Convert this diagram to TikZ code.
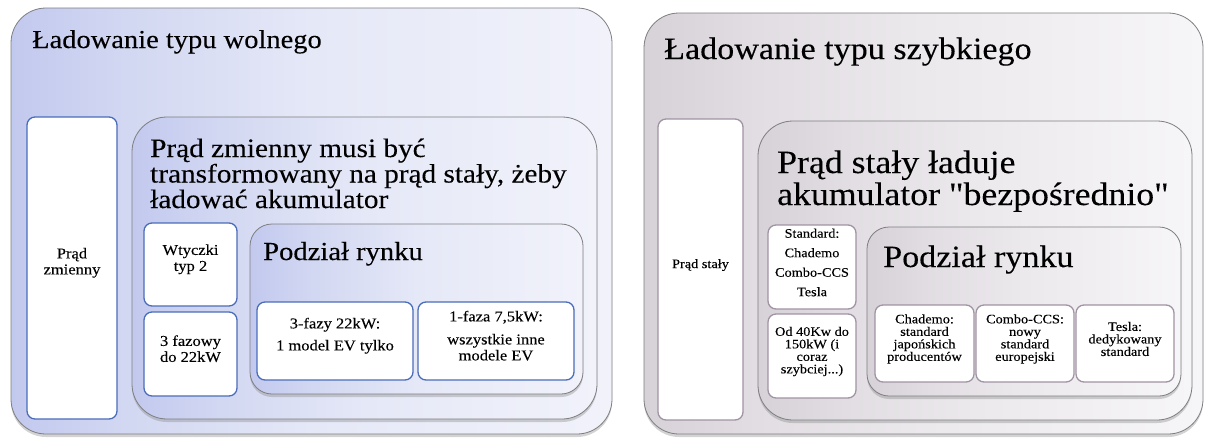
\documentclass[tikz,border=0pt]{standalone}
\usepackage{fontspec}
\setmainfont{Liberation Serif}[FakeStretch=1.1, FakeBold=0.15, Ligatures=TeXOff]
\usetikzlibrary{shadows,fit}
\definecolor{blA}{HTML}{C2C9EE}
\definecolor{blB}{HTML}{D3D8F2}
\definecolor{blC}{HTML}{E5E8F7}
\definecolor{blD}{HTML}{F1F2FA}
\definecolor{mvA}{HTML}{D7D1D8}
\definecolor{mvB}{HTML}{E1DDE2}
\definecolor{mvC}{HTML}{ECE9ED}
\definecolor{mvD}{HTML}{F6F5F7}
\definecolor{edgegray}{HTML}{7E7E80}
\definecolor{blueedge}{HTML}{4A6DBA}
\definecolor{mauveedge}{HTML}{A093A3}
\pgfdeclarehorizontalshading{shL}{100bp}{color(0bp)=(blA); color(25bp)=(blA); color(35bp)=(blB); color(50bp)=(blC); color(75bp)=(blD); color(100bp)=(blD)}
\pgfdeclarehorizontalshading{shR}{100bp}{color(0bp)=(mvA); color(25bp)=(mvA); color(35bp)=(mvB); color(50bp)=(mvC); color(75bp)=(mvD); color(100bp)=(mvD)}
\tikzset{
  shadowed/.style={drop shadow={shadow xshift=0pt, shadow yshift=-3pt, opacity=.35}},
  bigL/.style={draw=edgegray, line width=0.8pt, rounded corners=35pt, shading=shL, shadowed, inner sep=0pt},
  bigR/.style={draw=edgegray, line width=0.8pt, rounded corners=35pt, shading=shR, shadowed, inner sep=0pt},
  podL/.style={draw=edgegray, line width=0.8pt, rounded corners=22pt, shading=shL, shadowed, inner sep=0pt},
  podR/.style={draw=edgegray, line width=0.8pt, rounded corners=22pt, shading=shR, shadowed, inner sep=0pt},
  cellL/.style={draw=blueedge, line width=1.3pt, rounded corners=8pt, fill=white, inner sep=0pt, align=center, font=\fontsize{15}{16}\selectfont},
  cellR/.style={draw=mauveedge, line width=1.3pt, rounded corners=8pt, fill=white, inner sep=0pt, align=center, font=\fontsize{13}{12.5}\selectfont},
  ttl/.style={anchor=base west, inner sep=0pt, align=left},
}
\begin{document}
\begin{tikzpicture}[x=1pt,y=-1pt]
\useasboundingbox (0,0) rectangle (1207,440);
% ---------- left panel ----------
\node[bigL, fit={(11,8) (612,434)}] (oL) {};
\node[ttl, font=\fontsize{25.9}{26}\selectfont] (tL) at (32,48) {Ładowanie typu wolnego};
\node[cellL, fit={(27,117) (117,419)}] (aL) {Prąd\\zmienny};
\node[bigL, fit={(132,117) (597,419)}] (mL) {};
\node[ttl, font=\fontsize{26.6}{25.5}\selectfont] (mtL) at (150,208) {Prąd zmienny musi być\\transformowany na prąd stały, żeby\\ładować akumulator};
\node[cellL, fit={(144,223) (237,306)}] (wL) {Wtyczki\\typ 2};
\node[cellL, fit={(144,312) (237,396)}] (fL) {3 fazowy\\do 22kW};
\node[podL, fit={(250,224) (583,394)}] (pL) {};
\node[ttl, font=\fontsize{26}{26}\selectfont] (ptL) at (263,260) {Podział rynku};
\node[cellL, fit={(257,302) (413,380)}] (b3L) {3-fazy 22kW:\\[6pt]1 model EV tylko};
\node[cellL, fit={(418,302) (574,380)}] (b1L) {1-faza 7,5kW:\\[7pt]wszystkie inne\\modele EV};
% ---------- right panel ----------
\node[bigR, fit={(644,13) (1203,434)}] (oR) {};
\node[ttl, font=\fontsize{31}{31}\selectfont] (tR) at (664,59) {Ładowanie typu szybkiego};
\node[cellR, fit={(658,119) (743,420)}] (aR) {Prąd stały};
\node[bigR, fit={(758,121) (1192,420)}] (mR) {};
\node[ttl, font=\fontsize{32.5}{32}\selectfont] (mtR) at (777,205) {Prąd stały ładuje\\akumulator "bezpośrednio"};
\node[cellR, fit={(768,225) (856,309)}, font=\fontsize{13}{19.5}\selectfont] (sR) {Standard:\\Chademo\\Combo-CCS\\Tesla};
\node[cellR, fit={(768,314) (856,398)}] (odR) {Od 40Kw do\\150kW (i\\coraz\\szybciej...)};
\node[podR, fit={(867,227) (1181,396)}] (pR) {};
\node[ttl, font=\fontsize{31}{31}\selectfont] (ptR) at (883,267) {Podział rynku};
\node[cellR, fit={(875,305) (974,382)}] (chR) {Chademo:\\standard\\japońskich\\producentów};
\node[cellR, fit={(976,305) (1074,382)}] (coR) {Combo-CCS:\\nowy\\standard\\europejski};
\node[cellR, fit={(1076,305) (1174,382)}] (teR) {Tesla:\\dedykowany\\standard};
\end{tikzpicture}
\end{document}
